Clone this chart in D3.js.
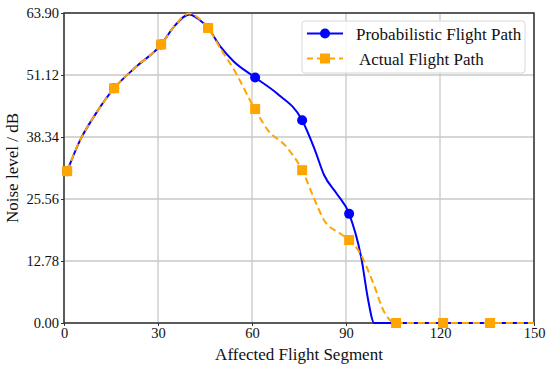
<!DOCTYPE html>
<html lang="en">

<head>
  <meta charset="utf-8">
  <title> Noise level </title>
  <script src="https://d3js.org/d3.v7.min.js"></script>
  <style>
    body {
      margin: 0;
      background: #fff;
      font-family: "Liberation Serif", "Times New Roman", serif;
    }

    .grid line {
      stroke: #c8c8c8;
      stroke-width: 1.3;
    }
  </style>
</head>

<body>
  <script>
    // line samples (segment, dB)
    var probX = [1, 5, 10, 16, 23, 31, 35, 40, 43, 46, 50, 54, 61, 68, 76, 80, 83, 87, 91, 95, 97, 99, 106, 121, 136, 150];
    var probY = [31.3, 37.5, 43, 48.4, 52.8, 57.4, 61, 63.6, 62.6, 60.8, 56.9, 54, 50.6, 47.3, 41.8, 35.8, 30.5, 26.7, 22.5, 13, 5, 0, 0, 0, 0, 0];

    var actX = [1, 5, 10, 16, 23, 31, 35, 40, 43, 46, 50, 54, 61, 65, 71, 76, 80, 83, 88, 91, 94.5, 98.7, 102.4, 106, 121, 136, 150];
    var actY = [31.3, 37.5, 43, 48.4, 52.8, 57.4, 61, 63.8, 62.8, 60.8, 56.5, 52.5, 44, 39.8, 36.3, 31.5, 25.4, 21.2, 18.5, 17.1, 14.4, 8.2, 2, 0, 0, 0, 0];

    // marker positions (every 15 segments)
    var markX = [1, 16, 31, 46, 61, 76, 91, 106, 121, 136];
    var probMark = [31.3, 48.4, 57.4, 60.8, 50.6, 41.8, 22.5, 0, 0, 0];
    var actMark = [31.3, 48.4, 57.4, 60.8, 44.1, 31.5, 17.1, 0, 0, 0];

    var xTicks = [0, 30, 60, 90, 120, 150];
    var yTicks = [0, 12.78, 25.56, 38.34, 51.12, 63.90];

    var width = 550, height = 369;
    var margin = { left: 64, right: 16, top: 13, bottom: 46 };

    var svg = d3.select("body").append("svg")
      .attr("width", width)
      .attr("height", height);

    var x = d3.scaleLinear().domain([0, 150]).range([margin.left, width - margin.right]);
    var y = d3.scaleLinear().domain([0, 63.90]).range([height - margin.bottom, margin.top]);

    // grid
    var grid = svg.append("g").attr("class", "grid");
    grid.selectAll(".gx").data(xTicks).enter().append("line")
      .attr("x1", d => x(d)).attr("x2", d => x(d))
      .attr("y1", y(0)).attr("y2", y(63.90));
    grid.selectAll(".gy").data(yTicks).enter().append("line")
      .attr("y1", d => y(d)).attr("y2", d => y(d))
      .attr("x1", x(0)).attr("x2", x(150));

    // axes
    var xAxis = svg.append("g")
      .attr("transform", "translate(0," + y(0) + ")")
      .call(d3.axisBottom(x).tickValues(xTicks).tickSize(3).tickPadding(2).tickFormat(d3.format("d")));
    var yAxis = svg.append("g")
      .attr("transform", "translate(" + x(0) + ",0)")
      .call(d3.axisLeft(y).tickValues(yTicks).tickSize(3).tickPadding(2).tickFormat(d3.format(".2f")));
    [xAxis, yAxis].forEach(function(a) {
      a.select(".domain").remove();
      a.selectAll("text").style("font-family", "Liberation Serif").style("font-size", "14.5px").attr("fill", "#111");
      a.selectAll("line").attr("stroke", "#333");
    });

    // frame
    svg.append("rect")
      .attr("x", x(0)).attr("y", y(63.90))
      .attr("width", x(150) - x(0)).attr("height", y(0) - y(63.90))
      .attr("fill", "none").attr("stroke", "#333").attr("stroke-width", 1.5);

    var plot = svg.append("g");

    var line = d3.line().curve(d3.curveMonotoneX);

    // probabilistic
    plot.append("path")
      .datum(probX.map((d, i) => [x(d), y(probY[i])]))
      .attr("d", line)
      .attr("fill", "none").attr("stroke", "#0000ff").attr("stroke-width", 2);
    plot.selectAll(".pm").data(markX).enter().append("circle")
      .attr("cx", d => x(d)).attr("cy", (d, i) => y(probMark[i]))
      .attr("r", 5).attr("fill", "#0000ff");

    // actual
    plot.append("path")
      .datum(actX.map((d, i) => [x(d), y(actY[i])]))
      .attr("d", line)
      .attr("fill", "none").attr("stroke", "#ffa500").attr("stroke-width", 2)
      .attr("stroke-dasharray", "7,4");
    plot.selectAll(".am").data(markX).enter().append("rect")
      .attr("x", d => x(d) - 5).attr("y", (d, i) => y(actMark[i]) - 5)
      .attr("width", 10).attr("height", 10).attr("fill", "#ffa500");

    // axis titles
    svg.append("text")
      .attr("x", (x(0) + x(150)) / 2).attr("y", 360)
      .attr("text-anchor", "middle")
      .style("font-size", "17px").attr("fill", "#111")
      .text("Affected Flight Segment");
    svg.append("text")
      .attr("transform", "translate(18," + (y(0) + y(63.90)) / 2 + ") rotate(-90)")
      .attr("text-anchor", "middle")
      .style("font-size", "17px").attr("fill", "#111")
      .text("Noise level / dB");

    // legend
    var lg = svg.append("g");
    lg.append("rect")
      .attr("x", 302).attr("y", 21).attr("width", 223).attr("height", 52).attr("rx", 3)
      .attr("fill", "#fff").attr("fill-opacity", 0.85).attr("stroke", "#d8d8d8");
    lg.append("line").attr("x1", 307).attr("x2", 343).attr("y1", 33.5).attr("y2", 33.5)
      .attr("stroke", "#0000ff").attr("stroke-width", 2);
    lg.append("circle").attr("cx", 325).attr("cy", 33.5).attr("r", 5).attr("fill", "#0000ff");
    lg.append("line").attr("x1", 307).attr("x2", 343).attr("y1", 58.5).attr("y2", 58.5)
      .attr("stroke", "#ffa500").attr("stroke-width", 2).attr("stroke-dasharray", "7,4")
      .attr("stroke-dashoffset", 1);
    lg.append("rect").attr("x", 320).attr("y", 53.5).attr("width", 10).attr("height", 10).attr("fill", "#ffa500");
    lg.append("text").attr("x", 356).attr("y", 39.5).style("font-size", "17px").attr("fill", "#111")
      .text("Probabilistic Flight Path");
    lg.append("text").attr("x", 359).attr("y", 64.5).style("font-size", "17px").attr("fill", "#111")
      .text("Actual Flight Path");
  </script>
</body>

</html>
